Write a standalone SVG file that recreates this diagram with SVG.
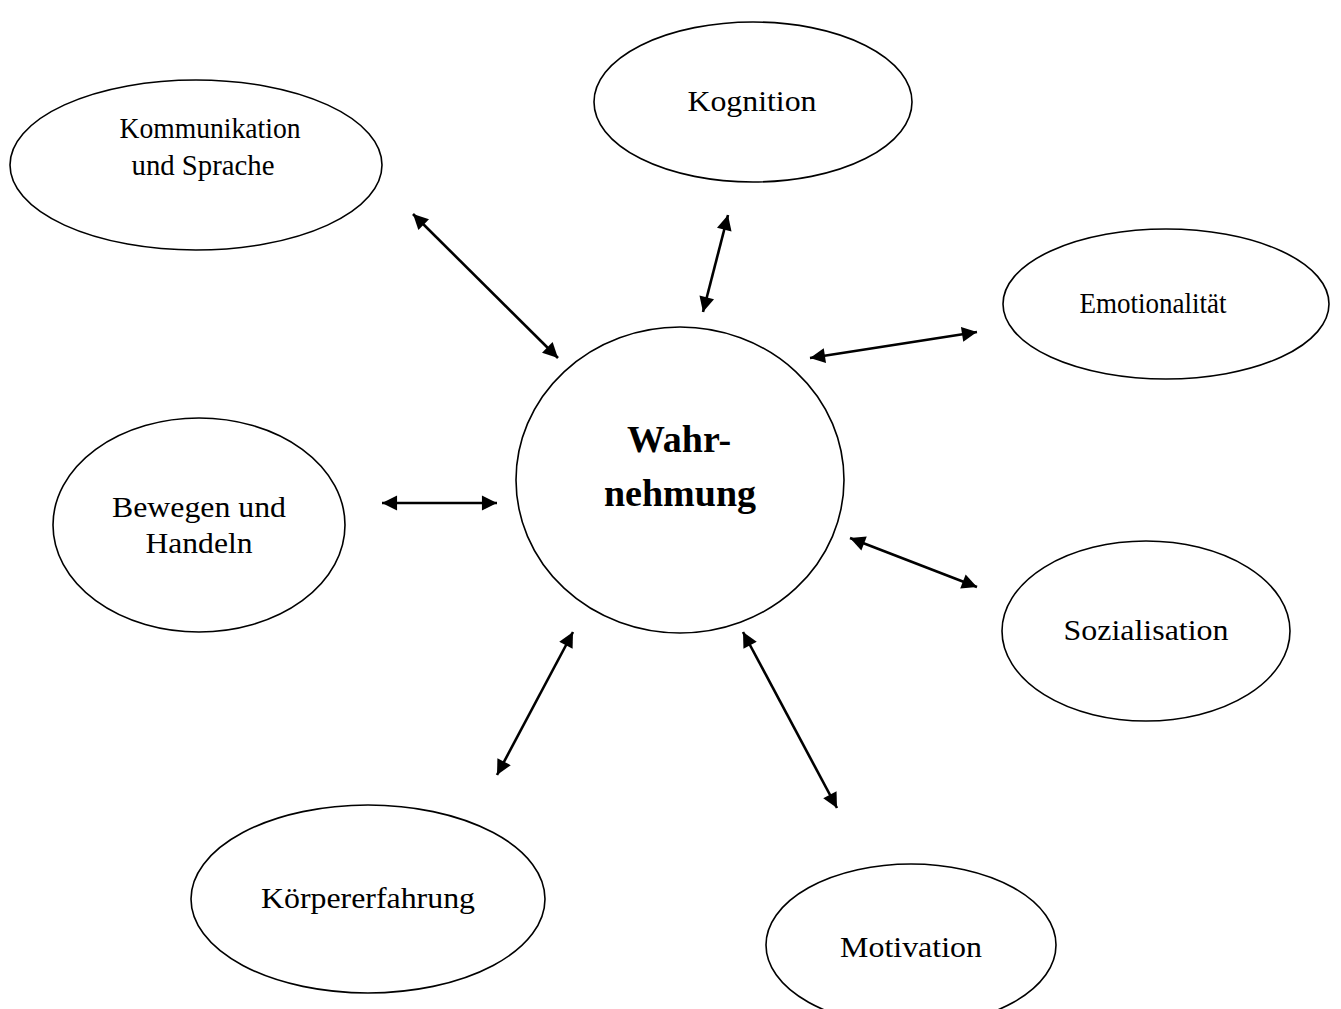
<svg xmlns="http://www.w3.org/2000/svg" width="1341" height="1009" viewBox="0 0 1341 1009">
<style>
.n{fill:#fff;stroke:#000;stroke-width:1.6}
.t{font-family:"Liberation Serif","Times New Roman",serif;font-size:30px;fill:#000;text-anchor:middle}
.b{font-family:"Liberation Serif","Times New Roman",serif;font-size:38px;font-weight:bold;fill:#000;text-anchor:middle}
.c{stroke:#000;stroke-width:2.6;fill:none;marker-start:url(#ah);marker-end:url(#ah)}
</style>
<defs>
<marker id="ah" viewBox="0 0 10 10" refX="10" refY="5" markerWidth="6.2" markerHeight="5.8" orient="auto-start-reverse" markerUnits="strokeWidth">
<path d="M0,0 L10,5 L0,10 z" fill="#000"/>
</marker>
</defs>
<rect width="1341" height="1009" fill="#fff"/>
<g id="connectors">
<line class="c" x1="413" y1="214" x2="558" y2="358"/>
<line class="c" x1="728" y1="215" x2="703" y2="312"/>
<line class="c" x1="810" y1="358" x2="977" y2="332"/>
<line class="c" x1="382" y1="503" x2="497" y2="503"/>
<line class="c" x1="850" y1="538" x2="977" y2="587"/>
<line class="c" x1="573" y1="632" x2="497" y2="775"/>
<line class="c" x1="743" y1="632" x2="837" y2="808"/>
</g>
<g id="kommunikation"><ellipse class="n" cx="196" cy="165" rx="186" ry="85"/><text class="t" x="210" y="138" textLength="181" lengthAdjust="spacingAndGlyphs">Kommunikation</text><text class="t" x="203" y="175" textLength="143" lengthAdjust="spacingAndGlyphs">und Sprache</text></g>
<g id="kognition"><ellipse class="n" cx="753" cy="102" rx="159" ry="80"/><text class="t" x="752" y="111" textLength="129" lengthAdjust="spacingAndGlyphs">Kognition</text></g>
<g id="emotionalitaet"><ellipse class="n" cx="1166" cy="304" rx="163" ry="75"/><text class="t" x="1153" y="313" textLength="147" lengthAdjust="spacingAndGlyphs">Emotionalität</text></g>
<g id="wahrnehmung"><ellipse class="n" cx="680" cy="480" rx="164" ry="153"/><text class="b" x="679" y="452">Wahr-</text><text class="b" x="680" y="506">nehmung</text></g>
<g id="bewegen"><ellipse class="n" cx="199" cy="525" rx="146" ry="107"/><text class="t" x="199" y="517" textLength="174" lengthAdjust="spacingAndGlyphs">Bewegen und</text><text class="t" x="199" y="553" textLength="107" lengthAdjust="spacingAndGlyphs">Handeln</text></g>
<g id="sozialisation"><ellipse class="n" cx="1146" cy="631" rx="144" ry="90"/><text class="t" x="1146" y="640" textLength="165" lengthAdjust="spacingAndGlyphs">Sozialisation</text></g>
<g id="koerpererfahrung"><ellipse class="n" cx="368" cy="899" rx="177" ry="94"/><text class="t" x="368" y="908" textLength="214" lengthAdjust="spacingAndGlyphs">Körpererfahrung</text></g>
<g id="motivation"><ellipse class="n" cx="911" cy="945" rx="145" ry="81"/><text class="t" x="911" y="957" textLength="142" lengthAdjust="spacingAndGlyphs">Motivation</text></g>
</svg>
